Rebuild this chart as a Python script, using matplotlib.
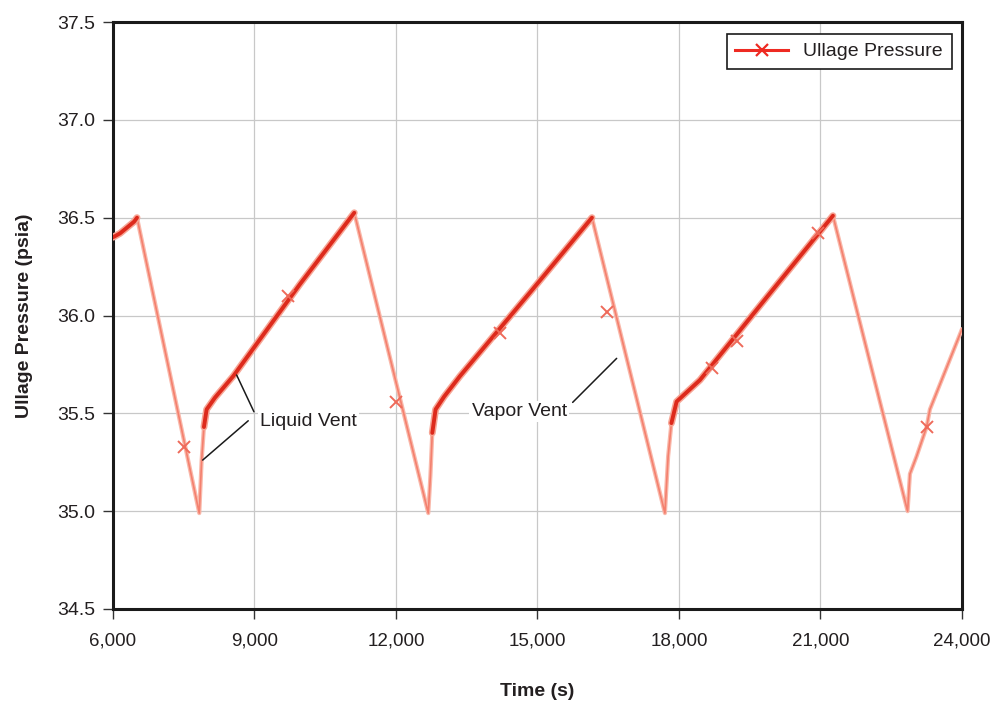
import numpy as np
import matplotlib
matplotlib.use("Agg")
import matplotlib.pyplot as plt
from matplotlib.lines import Line2D
from matplotlib.ticker import FuncFormatter

plt.rcParams['font.family'] = ['Liberation Sans', 'DejaVu Sans']

# ---- data ----
time_s = [6000, 6150, 6300, 6450, 6510,
          7830, 7880, 7929, 7986, 8162, 8550, 9964, 11116,
          12685, 12730, 12770, 12840, 13020, 13356, 14850, 16155,
          17702, 17770, 17840, 17950, 18444, 19950, 21264,
          22847, 22896, 23037, 23250, 23320, 24000]
pressure = [36.40, 36.42, 36.45, 36.48, 36.50,
            34.99, 35.26, 35.43, 35.52, 35.58, 35.69, 36.16, 36.525,
            34.99, 35.18, 35.40, 35.52, 35.585, 35.69, 36.12, 36.50,
            34.99, 35.28, 35.45, 35.56, 35.67, 36.12, 36.51,
            35.00, 35.19, 35.28, 35.43, 35.52, 35.93]
# self-pressurization (rising) segments drawn as the heavy band: (start idx, end idx)
rise_segments = [(0, 4), (7, 12), (15, 20), (23, 27)]

marker_t = [7505, 9710, 12000, 14204, 16473, 18700, 19229, 20946, 23250]
marker_p = [35.33, 36.10, 35.56, 35.91, 36.02, 35.73, 35.87, 36.42, 35.43]

x_ticks = [6000, 9000, 12000, 15000, 18000, 21000, 24000]
y_ticks = [34.5, 35.0, 35.5, 36.0, 36.5, 37.0, 37.5]

series_label = "Ullage Pressure"
x_label = "Time (s)"
y_label = "Ullage Pressure (psia)"

FS = 14

# ---- figure ----
fig = plt.figure(figsize=(9.9, 7.06), dpi=100)
ax = fig.add_axes([0.1141, 0.1374, 0.8576, 0.8314])

t = np.array(time_s)
p = np.array(pressure)

# halo + core of full trace
ax.plot(t, p, color='#f9b8aa', lw=3.0, solid_capstyle='round', solid_joinstyle='round', zorder=3)
ax.plot(t, p, color='#f4806e', lw=1.2, solid_joinstyle='round', zorder=4)
# heavy rising bands
for a, b in rise_segments:
    ax.plot(t[a:b + 1], p[a:b + 1], color='#f7a595', lw=5.0, solid_capstyle='round', zorder=4)
    ax.plot(t[a:b + 1], p[a:b + 1], color='#dd2a1c', lw=2.8, solid_capstyle='round', zorder=5)

ax.plot(marker_t, marker_p, linestyle='none', marker='x', ms=8, mew=1.4,
        color='#ee6a5a', zorder=6)

ax.set_xlim(6000, 24000)
ax.set_ylim(34.5, 37.5)
ax.set_xticks(x_ticks)
ax.set_yticks(y_ticks)
ax.xaxis.set_major_formatter(FuncFormatter(lambda v, pos: f"{int(v):,}"))
ax.yaxis.set_major_formatter(FuncFormatter(lambda v, pos: f"{v:.1f}"))
ax.grid(True, color='#c8c8c8', lw=0.9, zorder=0)
ax.set_axisbelow(True)

for s in ax.spines.values():
    s.set_linewidth(2.2)
    s.set_color('#1a1a1a')

ax.tick_params(axis='both', direction='out', length=7, width=1.0, color='#333333',
               labelsize=FS, labelcolor='#231f20')
ax.tick_params(axis='x', pad=10, labelsize=13.5)
ax.tick_params(axis='y', pad=6)

ax.set_xlabel(x_label, fontsize=FS, fontweight='bold', color='#231f20', labelpad=24)
ax.set_ylabel(y_label, fontsize=FS, fontweight='bold', color='#231f20', labelpad=17)

# annotations
txt_kw = dict(fontsize=FS, color='#231f20', va='center', ha='left',
              bbox=dict(facecolor='white', edgecolor='none', pad=1.5), zorder=8)
ax.text(9116, 35.457, "Liquid Vent", **txt_kw)
ax.annotate("", xy=(8622, 35.696), xytext=(8989, 35.508),
            arrowprops=dict(arrowstyle='-', color='#1a1a1a', lw=1.1, shrinkA=0, shrinkB=0), zorder=7)
ax.annotate("", xy=(7902, 35.261), xytext=(8868, 35.462),
            arrowprops=dict(arrowstyle='-', color='#1a1a1a', lw=1.1, shrinkA=0, shrinkB=0), zorder=7)
ax.text(13604, 35.508, "Vapor Vent", **txt_kw)
ax.annotate("", xy=(16679, 35.781), xytext=(15746, 35.556),
            arrowprops=dict(arrowstyle='-', color='#1a1a1a', lw=1.1, shrinkA=0, shrinkB=0), zorder=7)

leg = ax.legend([Line2D([0], [0], color='#ee2a22', lw=2.2, marker='x', ms=9, mew=1.6)],
                [series_label], loc='upper right', bbox_to_anchor=(0.988, 0.9796),
                borderaxespad=0, fontsize=FS, frameon=True, fancybox=False,
                edgecolor='#1a1a1a', framealpha=1, handlelength=2.7, handletextpad=0.8,
                borderpad=0.45)
leg.get_frame().set_linewidth(1.2)
for txt in leg.get_texts():
    txt.set_color('#231f20')

fig.savefig('out.png', dpi=100)
